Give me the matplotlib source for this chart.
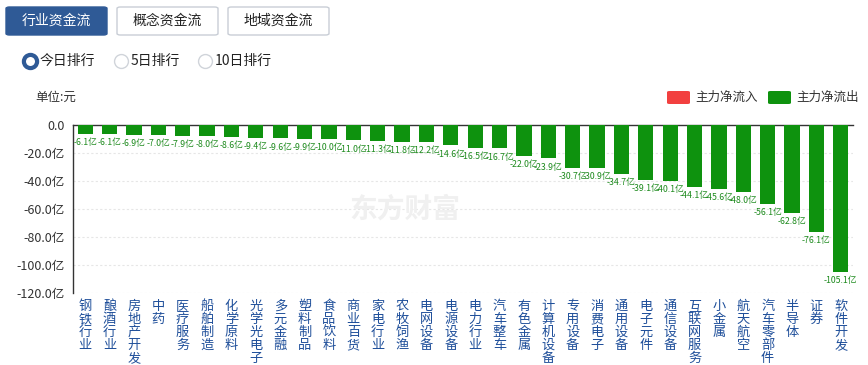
import numpy as np
import matplotlib
matplotlib.use("Agg")
import matplotlib.pyplot as plt
from matplotlib.patches import FancyBboxPatch
from matplotlib.lines import Line2D

plt.rcParams['font.family'] = ['Noto Sans CJK SC', 'DejaVu Sans']

# dados do grafico
categorias = ["钢铁行业", "酿酒行业", "房地产开发", "中药", "医疗服务", "船舶制造",
              "化学原料", "光学光电子", "多元金融", "塑料制品", "食品饮料", "商业百货",
              "家电行业", "农牧饲渔", "电网设备", "电源设备", "电力行业", "汽车整车",
              "有色金属", "计算机设备", "专用设备", "消费电子", "通用设备", "电子元件",
              "通信设备", "互联网服务", "小金属", "航天航空", "汽车零部件", "半导体",
              "证券", "软件开发"]
valores = [-6.1, -6.1, -6.9, -7.0, -7.9, -8.0, -8.6, -9.4, -9.6, -9.9, -10.0, -11.0,
           -11.3, -11.8, -12.2, -14.6, -16.5, -16.7, -22.0, -23.9, -30.7, -30.9, -34.7,
           -39.1, -40.1, -44.1, -45.6, -48.0, -56.1, -62.8, -76.1, -105.1]
ticks_y = [0, -20, -40, -60, -80, -100, -120]
botoes = ["行业资金流", "概念资金流", "地域资金流"]
radios = ["今日排行", "5日排行", "10日排行"]
legenda = ["主力净流入", "主力净流出"]

VERDE = "#0e920e"
VERMELHO = "#f2403f"
AZUL = "#2f5a96"
W, H = 868, 365

def px(x, y):
    return x / W, 1 - y / H

fig = plt.figure(figsize=(W / 100, H / 100), dpi=100)

# botoes do topo
xs_botoes = [6, 117, 228]
for i, (nome, x0) in enumerate(zip(botoes, xs_botoes)):
    ativo = i == 0
    bx, by = px(x0, 35)
    caixa = FancyBboxPatch((bx, by), 101 / W, 28 / H,
                           boxstyle="round,pad=0,rounding_size=0.004",
                           transform=fig.transFigure,
                           facecolor=AZUL if ativo else "white",
                           edgecolor=AZUL if ativo else "#c9ced6", linewidth=1)
    fig.add_artist(caixa)
    cx, cy = px(x0 + 50.5, 21)
    fig.text(cx, cy, nome, ha="center", va="center", fontsize=10,
             color="white" if ativo else "#222222")

# radios
xs_radio = [30, 121, 205]
for i, (nome, x0) in enumerate(zip(radios, xs_radio)):
    rx, ry = px(x0, 61)
    if i == 0:
        fig.add_artist(Line2D([rx], [ry], marker="o", markersize=9.5,
                              markerfacecolor="white", markeredgecolor=AZUL,
                              markeredgewidth=3, transform=fig.transFigure))
    else:
        fig.add_artist(Line2D([rx], [ry], marker="o", markersize=10,
                              markerfacecolor="white", markeredgecolor="#d0d4da",
                              markeredgewidth=1, transform=fig.transFigure))
    tx, ty = px(x0 + 10, 61)
    fig.text(tx, ty, nome, ha="left", va="center", fontsize=10, color="#222222")

# unidade
ux, uy = px(35, 97)
fig.text(ux, uy, "单位:元", ha="left", va="center", fontsize=9, color="#333333")

# legenda
for nome, x0, cor in zip(legenda, [667, 768], [VERMELHO, VERDE]):
    lx, ly = px(x0, 104)
    fig.add_artist(FancyBboxPatch((lx, ly), 23 / W, 13 / H,
                                  boxstyle="round,pad=0,rounding_size=0.003",
                                  transform=fig.transFigure, facecolor=cor,
                                  edgecolor="none"))
    tx, ty = px(x0 + 28, 97)
    fig.text(tx, ty, nome, ha="left", va="center", fontsize=9, color="#333333")

# marca d'agua
wx, wy = px(405, 210)
fig.text(wx, wy, "东方财富", ha="center", va="center", fontsize=20,
         color="#f0f0f0", fontweight="bold", zorder=0)

# eixo principal
esq, topo, dir_, base = 73, 125, 853, 293
ax = fig.add_axes([esq / W, 1 - base / H, (dir_ - esq) / W, (base - topo) / H])
ax.patch.set_alpha(0)
x = np.arange(len(valores))
ax.bar(x, valores, width=0.63, color=VERDE, zorder=3)
ax.set_xlim(-0.5, len(valores) - 0.5)
ax.set_ylim(-120, 0)
ax.set_yticks(ticks_y)
ax.set_yticklabels(["0.0"] + [f"{v:.1f}亿" for v in ticks_y[1:]],
                   fontsize=9, color="#333333")
ax.tick_params(axis="y", length=0, pad=6)
ax.tick_params(axis="x", length=0)
ax.set_xticks([])
for v in ticks_y[1:]:
    ax.axhline(v, color="#e6e6e6", linestyle=(0, (2, 2)), linewidth=0.8, zorder=1)
for lado in ["right", "bottom"]:
    ax.spines[lado].set_visible(False)
ax.spines["left"].set_color("#333333")
ax.spines["top"].set_color("#333333")
ax.spines["left"].set_linewidth(1)
ax.spines["top"].set_linewidth(1)

# rotulos das barras
for xi, v in zip(x, valores):
    ax.annotate(f"{v:.1f}亿", (xi, v), xytext=(0, -3), textcoords="offset points",
                ha="center", va="top", fontsize=6.3, color="#1d8a1d", zorder=4)

# rotulos das categorias (verticais)
for xi, nome in zip(x, categorias):
    ax.annotate("\n".join(nome), (xi, -120), xytext=(0, -5),
                textcoords="offset points", ha="center", va="top",
                fontsize=9.5, color="#1f4f9a", linespacing=1.0,
                annotation_clip=False)

fig.savefig("out.png", dpi=100)
